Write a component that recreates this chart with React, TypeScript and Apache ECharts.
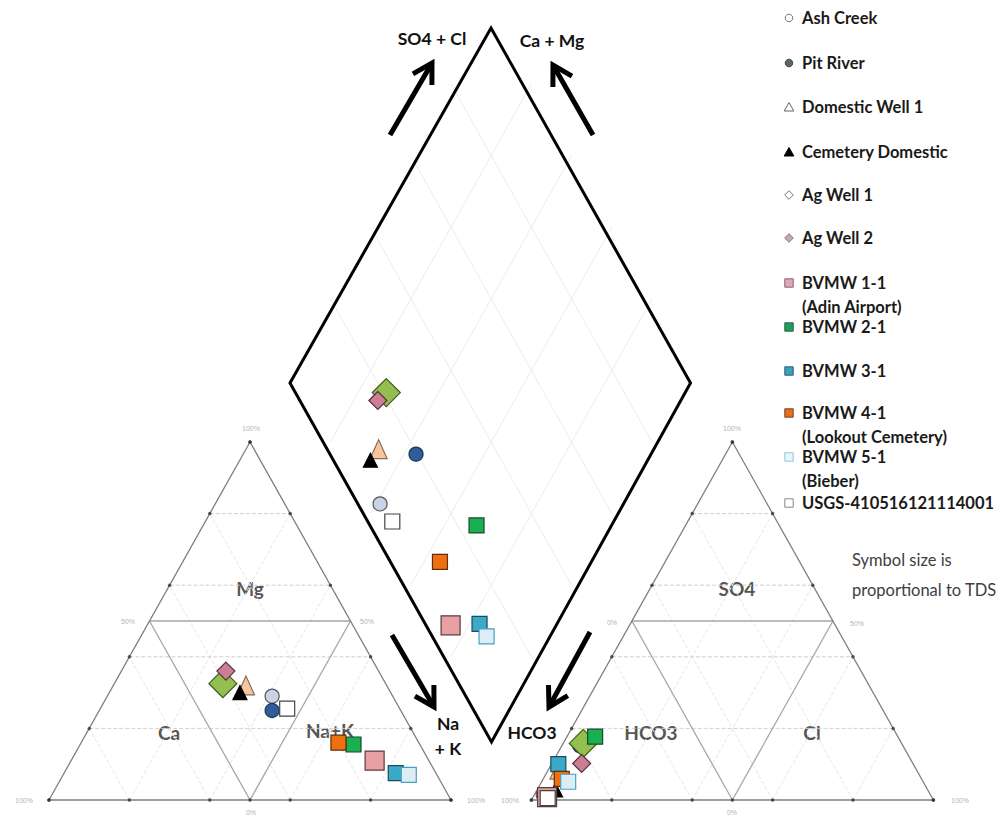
import React, { useEffect, useRef } from "react";
import * as echarts from "echarts";

// ---------- data (meq %) ----------
const samples = [
  "Ash Creek", "Pit River", "Domestic Well 1", "Cemetery Domestic", "Ag Well 1", "Ag Well 2",
  "BVMW 1-1", "BVMW 2-1", "BVMW 3-1", "BVMW 4-1", "BVMW 5-1", "USGS-410516121114001",
];
const sampleNotes = ["", "", "", "", "", "", "(Adin Airport)", "", "", "(Lookout Cemetery)", "(Bieber)", ""];
// cations
const caPct = [30, 32, 35, 37.5, 40.5, 38, 13.5, 16.5, 10, 20, 7, 28];
const mgPct = [29, 25, 32, 30, 32.5, 36, 11, 15.5, 7.5, 16, 7, 25.5];
const naKPct = [41, 43, 33, 32.5, 27, 26, 75.5, 68, 82.5, 64, 86, 46.5];
// anions
const hco3Pct = [96.3, 80.4, 89, 92.6, 79.2, 82.4, 95.7, 75.3, 88.3, 89.5, 88.3, 95.7];
const so4Pct = [1.5, 15.2, 8.5, 2.8, 15.8, 10.2, 0.8, 17.7, 10, 5.9, 5.1, 0.5];
const clPct = [2.2, 4.4, 2.5, 4.6, 5, 7.4, 3.5, 7, 1.7, 4.6, 6.6, 3.8];

// ---------- styles ----------
const symbols = ["circle", "circle", "triangle", "triangle", "diamond", "diamond", "rect", "rect", "rect", "rect", "rect", "rect"];
const sizes: any[] = [14, 14, [17, 19], [14, 14], 28, 18, 19, 15, 15, 15, 15, 15];
const fills = ["#c8d3e6", "#2e5d9a", "#f6c6a0", "#000000", "#92bf50", "#cc7f93", "#e8a0a2", "#18b050", "#3ba9c8", "#f07010", "#dcedf6", "#ffffff"];
const strokes = ["#555555", "#1d3557", "#8a6a50", "#000000", "#3d5a20", "#5a3040", "#5a3a3a", "#1d4a2a", "#1e4a5a", "#5a3010", "#4aa0c0", "#444444"];
const legendFills = ["#ffffff", "#56676e", "#ffffff", "#000000", "#ffffff", "#c9a9b0", "#e0a8b8", "#1aa060", "#3f9fbf", "#e07020", "#e8f4fa", "#ffffff"];
const legendStrokes = ["#777777", "#444444", "#666666", "#000000", "#777777", "#777777", "#8a6070", "#2f5f40", "#2f5f70", "#804020", "#8cc8e0", "#888888"];
const legendRowY = [18, 63, 107, 152, 195, 238, 283, 327, 371, 413, 457, 503];

// ---------- geometry ----------
const ANION_OFFSET = 120;
const cat = (ca: number, mg: number, na: number) => [na + mg / 2, mg];
const an = (hc: number, so: number, cl: number) => [ANION_OFFSET + cl + so / 2, so];
const dia = (cm: number, sc: number) => [110 + 50 * (sc - cm), 20 + 100 * (cm + sc)];

function triangleLines(ox: number) {
  const outer = [[[ox, 0], [ox + 50, 100], [ox + 100, 0], [ox, 0]]];
  const inner = [
    [[ox + 25, 50], [ox + 75, 50]],
    [[ox + 25, 50], [ox + 50, 0], [ox + 75, 50]],
  ];
  const hDash: number[][][] = [];
  const oDash: number[][][] = [];
  for (const k of [20, 40, 60, 80]) {
    hDash.push([[ox + k / 2, k], [ox + 100 - k / 2, k]]);
    oDash.push([[ox + k, 0], [ox + k + (100 - k) / 2, 100 - k]]);
    oDash.push([[ox + 100 - k, 0], [ox + (100 - k) / 2, 100 - k]]);
  }
  const dots: number[][] = [];
  for (let k = 0; k <= 100; k += 20) {
    dots.push([ox + k / 2, k], [ox + 100 - k / 2, k], [ox + k, 0]);
  }
  dots.push([ox + 50, 0]);
  return { outer, inner, hDash, oDash, dots };
}

function diamondGrid() {
  const res: number[][][] = [];
  for (const k of [0.2, 0.4, 0.6, 0.8]) {
    res.push([dia(k, 0), dia(k, 1)]);
    res.push([dia(0, k), dia(1, k)]);
  }
  return res;
}

function arrow(tail: number[], tip: number[]) {
  const dx = tip[0] - tail[0], dy = tip[1] - tail[1];
  const a = Math.atan2(dy, dx);
  const L = 22;
  const b1 = a + Math.PI - Math.PI / 6;
  const b2 = a + Math.PI + Math.PI / 6;
  const p1 = [tip[0] + L * Math.cos(b1), tip[1] + L * Math.sin(b1)];
  const p2 = [tip[0] + L * Math.cos(b2), tip[1] + L * Math.sin(b2)];
  const st = { stroke: "#000", lineWidth: 5, fill: null, lineJoin: "miter" };
  return [
    { type: "polyline", shape: { points: [tail, tip] }, style: st },
    { type: "polyline", shape: { points: [p1, tip, p2] }, style: st },
  ];
}

const txt = (text: string, x: number, y: number, font: string, fill: string, align = "center") => ({
  type: "text",
  style: { text, x, y, font, fill, align, verticalAlign: "middle", textAlign: align, textVerticalAlign: "middle" },
});

export default function App() {
  const ref = useRef<HTMLDivElement>(null);
  useEffect(() => {
    if (!ref.current) return;
    const chart = echarts.init(ref.current, null, { renderer: "svg" });
    const L = triangleLines(0);
    const R = triangleLines(ANION_OFFSET);

    const lineSeries = (coords: number[][][], color: string, width: number, type: string) => ({
      type: "lines",
      coordinateSystem: "cartesian2d",
      polyline: true,
      silent: true,
      z: 1,
      data: coords.map((c) => ({ coords: c })),
      lineStyle: { color, width, type, opacity: 1 },
    });

    const sampleSeries = samples.map((name, i) => {
      const cm = (caPct[i] + mgPct[i]) / 100;
      const sc = (so4Pct[i] + clPct[i]) / 100;
      return {
        type: "scatter",
        name,
        z: 5,
        symbol: symbols[i],
        symbolSize: sizes[i],
        itemStyle: { color: fills[i], borderColor: strokes[i], borderWidth: 1.2, opacity: 1 },
        data: [
          cat(caPct[i], mgPct[i], naKPct[i]),
          an(hco3Pct[i], so4Pct[i], clPct[i]),
          dia(cm, sc),
        ],
      };
    });

    const FONT_B = "bold 17.5px Lato";
    const FONT_R = "bold 19px Lato";
    const LEG = "bold 16.5px Lato";
    const tick = "7px Arial";
    const tickColor = "#b4b4b4";

    const legendEls: any[] = [];
    samples.forEach((name, i) => {
      const y = legendRowY[i];
      const x = 789;
      const st = { fill: legendFills[i], stroke: legendStrokes[i], lineWidth: 1 };
      if (symbols[i] === "circle") legendEls.push({ type: "circle", shape: { cx: x, cy: y, r: 3.8 }, style: st });
      else if (symbols[i] === "triangle") legendEls.push({ type: "polygon", shape: { points: [[x, y - 4.5], [x + 4.8, y + 4], [x - 4.8, y + 4]] }, style: st });
      else if (symbols[i] === "diamond") legendEls.push({ type: "polygon", shape: { points: [[x, y - 4.3], [x + 4.3, y], [x, y + 4.3], [x - 4.3, y]] }, style: st });
      else legendEls.push({ type: "rect", shape: { x: x - 4.2, y: y - 4.2, width: 8.4, height: 8.4 }, style: st });
      legendEls.push(txt(name, 802, y, LEG, "#1a1a1a", "left"));
      if (sampleNotes[i]) legendEls.push(txt(sampleNotes[i], 802, y + 24, LEG, "#1a1a1a", "left"));
    });

    chart.setOption({
      animation: false,
      backgroundColor: "#ffffff",
      grid: { left: 0, right: 0, top: 0, bottom: 0, containLabel: false, outerBoundsMode: "none" },
      xAxis: { type: "value", min: -49 / 4.02, max: (1007 - 49) / 4.02, show: false },
      yAxis: { type: "value", min: -19 / 3.58, max: 800 / 3.58, show: false },
      graphic: [
        // drawn diamond outline
        { type: "polygon", shape: { points: [[491, 28], [690.5, 383], [491.5, 742], [290, 383]] }, style: { fill: null, stroke: "#000", lineWidth: 3, lineJoin: "miter" }, z: 3 },
        ...arrow([390, 135], [432, 63]),
        ...arrow([593, 135], [553, 65]),
        ...arrow([392, 635], [434, 707]),
        ...arrow([590, 632], [549, 707]),
        txt("SO4 + Cl", 432, 38, FONT_B, "#111"),
        txt("Ca + Mg", 552, 40, FONT_B, "#111"),
        txt("Na", 448, 723, FONT_B, "#111"),
        txt("+ K", 448, 748, FONT_B, "#111"),
        txt("HCO3", 532, 732, FONT_B, "#111"),
        txt("Mg", 250, 588, FONT_R, "#555555"),
        txt("Ca", 169, 732, FONT_R, "#555555"),
        txt("Na+K", 330, 730, FONT_R, "#555555"),
        txt("SO4", 737, 588, FONT_R, "#555555"),
        txt("HCO3", 651, 732, FONT_R, "#555555"),
        txt("Cl", 812, 732, FONT_R, "#555555"),
        txt("Symbol size is", 852, 560, "16.5px Lato", "#404040", "left"),
        txt("proportional to TDS", 852, 590, "16.5px Lato", "#404040", "left"),
        txt("100%", 251, 428, tick, tickColor),
        txt("100%", 732, 428, tick, tickColor),
        txt("100%", 24, 800, tick, tickColor),
        txt("100%", 476, 800, tick, tickColor),
        txt("100%", 510, 800, tick, tickColor),
        txt("100%", 960, 800, tick, tickColor),
        txt("0%", 251, 812, tick, tickColor),
        txt("0%", 732, 812, tick, tickColor),
        txt("50%", 128, 621, tick, tickColor),
        txt("50%", 367, 621, tick, tickColor),
        txt("0%", 612, 622, tick, tickColor),
        txt("50%", 857, 623, tick, tickColor),
        ...legendEls,
      ],
      series: [
        lineSeries(diamondGrid(), "#ececec", 1, "solid"),
        lineSeries([...L.oDash, ...R.oDash], "#e6e6e6", 1, "dashed"),
        lineSeries([...L.hDash, ...R.hDash], "#cfcfcf", 1, "dashed"),
        lineSeries([...L.inner, ...R.inner], "#a6a6a6", 1.3, "solid"),
        lineSeries([...L.outer, ...R.outer], "#7f7f7f", 1.3, "solid"),
        {
          type: "scatter",
          silent: true,
          z: 2,
          symbol: "circle",
          symbolSize: 3.5,
          itemStyle: { color: "#333" },
          data: [...L.dots, ...R.dots],
        },
        ...sampleSeries,
      ],
    });
    return () => chart.dispose();
  }, []);
  return <div ref={ref} style={{ position: "fixed", left: 0, top: 0, width: 1007, height: 819 }} />;
}
